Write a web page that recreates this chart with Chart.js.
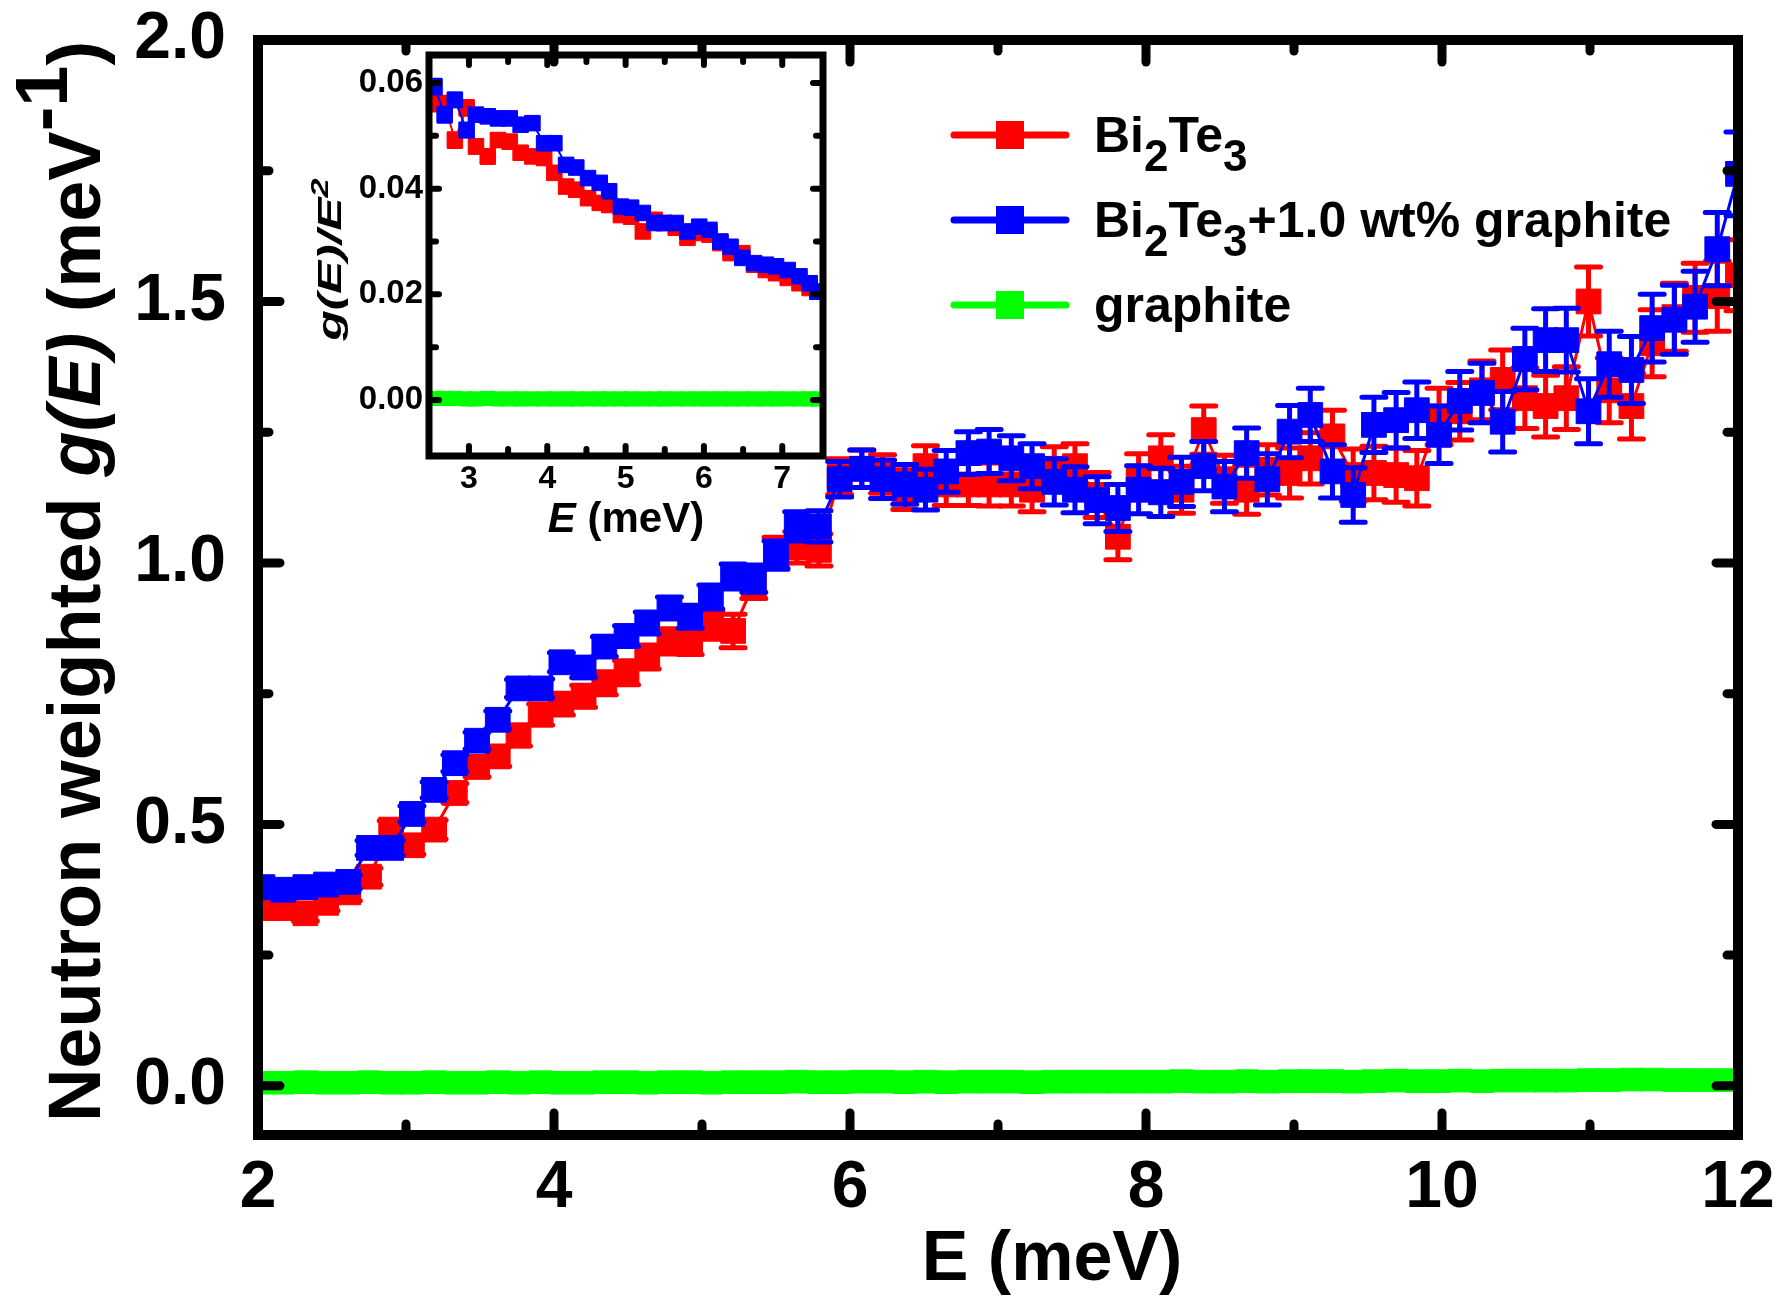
<!DOCTYPE html>
<html>
<head>
<meta charset="utf-8">
<title>Neutron weighted g(E)</title>
<script src="https://cdn.jsdelivr.net/npm/chart.js@4.4.1/dist/chart.umd.min.js"></script>
<style>
  html, body { margin: 0; padding: 0; background: #fff; overflow: hidden; }
  #wrap { position: relative; width: 1783px; height: 1302px; }
  #main { position: absolute; left: 0; top: 0; }
  #inset { position: absolute; left: 300px; top: 20px; }
</style>
</head>
<body>
<div id="wrap">
  <canvas id="main" width="1783" height="1302"></canvas>
  <canvas id="inset" width="540" height="540"></canvas>
</div>
<script>
// ---- data ----
const energy = [2.03, 2.17, 2.32, 2.46, 2.61, 2.75, 2.90, 3.04, 3.19, 3.33,
  3.48, 3.62, 3.76, 3.91, 4.05, 4.20, 4.34, 4.49, 4.63, 4.78,
  4.92, 5.06, 5.21, 5.35, 5.50, 5.64, 5.79, 5.93, 6.08, 6.22,
  6.37, 6.51, 6.65, 6.80, 6.94, 7.09, 7.23, 7.38, 7.52, 7.67,
  7.81, 7.95, 8.10, 8.24, 8.39, 8.53, 8.68, 8.82, 8.97, 9.11,
  9.26, 9.40, 9.54, 9.69, 9.83, 9.98, 10.12, 10.27, 10.41, 10.56,
  10.70, 10.84, 10.99, 11.13, 11.28, 11.42, 11.57, 11.71, 11.86, 12.00];

const bi2te3 = [0.34, 0.34, 0.33, 0.35, 0.37, 0.40, 0.49, 0.46, 0.49, 0.56,
  0.61, 0.63, 0.67, 0.71, 0.73, 0.745, 0.77, 0.79, 0.82, 0.85,
  0.85, 0.88, 0.87, 0.96, 1.02, 1.03, 1.025, 1.165, 1.18, 1.17,
  1.14, 1.185, 1.15, 1.15, 1.15, 1.15, 1.14, 1.18, 1.185, 1.13,
  1.05, 1.165, 1.20, 1.14, 1.254, 1.16, 1.14, 1.178, 1.172, 1.20,
  1.242, 1.168, 1.172, 1.168, 1.162, 1.28, 1.29, 1.33, 1.35, 1.315,
  1.30, 1.315, 1.50, 1.33, 1.30, 1.42, 1.47, 1.507, 1.51, 1.55];
const bi2te3Err = [0.014, 0.014, 0.015, 0.015, 0.016, 0.016, 0.017, 0.017, 0.018, 0.018,
  0.019, 0.019, 0.020, 0.020, 0.021, 0.021, 0.022, 0.023, 0.023, 0.024,
  0.025, 0.026, 0.032, 0.028, 0.029, 0.030, 0.031, 0.034, 0.036, 0.037,
  0.038, 0.039, 0.040, 0.040, 0.041, 0.041, 0.042, 0.042, 0.043, 0.043,
  0.044, 0.044, 0.045, 0.045, 0.046, 0.046, 0.047, 0.048, 0.048, 0.049,
  0.050, 0.050, 0.051, 0.052, 0.053, 0.054, 0.055, 0.056, 0.057, 0.058,
  0.059, 0.060, 0.066, 0.062, 0.063, 0.064, 0.065, 0.066, 0.067, 0.068];

const composite = [0.38, 0.375, 0.38, 0.385, 0.39, 0.455, 0.455, 0.52, 0.566, 0.617,
  0.66, 0.70, 0.76, 0.76, 0.81, 0.80, 0.84, 0.86, 0.885, 0.914,
  0.897, 0.935, 0.974, 0.97, 1.015, 1.07, 1.07, 1.16, 1.18, 1.16,
  1.15, 1.14, 1.175, 1.21, 1.213, 1.20, 1.185, 1.155, 1.14, 1.12,
  1.105, 1.14, 1.135, 1.155, 1.185, 1.146, 1.21, 1.16, 1.251, 1.283,
  1.175, 1.13, 1.264, 1.273, 1.292, 1.245, 1.31, 1.325, 1.27, 1.39,
  1.426, 1.426, 1.29, 1.38, 1.369, 1.449, 1.465, 1.49, 1.60, 1.744];
const compositeErr = [0.012, 0.012, 0.013, 0.013, 0.013, 0.014, 0.014, 0.015, 0.015, 0.016,
  0.016, 0.017, 0.017, 0.018, 0.018, 0.019, 0.019, 0.020, 0.021, 0.021,
  0.022, 0.023, 0.024, 0.026, 0.027, 0.028, 0.030, 0.034, 0.036, 0.037,
  0.038, 0.039, 0.040, 0.041, 0.042, 0.043, 0.043, 0.044, 0.044, 0.045,
  0.045, 0.046, 0.046, 0.047, 0.047, 0.048, 0.048, 0.049, 0.050, 0.051,
  0.051, 0.052, 0.053, 0.053, 0.054, 0.055, 0.056, 0.057, 0.058, 0.059,
  0.060, 0.061, 0.062, 0.063, 0.064, 0.065, 0.066, 0.068, 0.070, 0.080];

const graphite = [0.006, 0.006, 0.007, 0.006, 0.006, 0.007, 0.006, 0.006, 0.007, 0.006,
  0.006, 0.007, 0.006, 0.007, 0.006, 0.006, 0.007, 0.007, 0.006, 0.007,
  0.007, 0.006, 0.007, 0.007, 0.007, 0.008, 0.007, 0.007, 0.008, 0.008,
  0.007, 0.008, 0.007, 0.008, 0.008, 0.008, 0.007, 0.008, 0.008, 0.008,
  0.008, 0.008, 0.008, 0.009, 0.008, 0.008, 0.009, 0.008, 0.009, 0.009,
  0.009, 0.008, 0.009, 0.010, 0.009, 0.009, 0.010, 0.009, 0.010, 0.010,
  0.010, 0.010, 0.011, 0.011, 0.012, 0.012, 0.011, 0.011, 0.011, 0.011];
const graphiteErr = [0.004, 0.004, 0.004, 0.004, 0.004, 0.004, 0.004, 0.004, 0.004, 0.004,
  0.004, 0.004, 0.004, 0.004, 0.004, 0.004, 0.004, 0.004, 0.004, 0.004,
  0.004, 0.004, 0.004, 0.004, 0.004, 0.004, 0.004, 0.004, 0.004, 0.004,
  0.004, 0.004, 0.004, 0.004, 0.004, 0.004, 0.004, 0.004, 0.004, 0.004,
  0.004, 0.004, 0.004, 0.004, 0.004, 0.004, 0.004, 0.004, 0.004, 0.004,
  0.004, 0.004, 0.004, 0.004, 0.004, 0.004, 0.004, 0.004, 0.004, 0.004,
  0.004, 0.004, 0.004, 0.004, 0.004, 0.004, 0.004, 0.004, 0.004, 0.004];

// inset: g(E)/E^2
const insetEnergy = [2.56, 2.69, 2.82, 2.97, 3.09, 3.24, 3.37, 3.52, 3.66, 3.81,
  3.96, 4.09, 4.24, 4.37, 4.52, 4.67, 4.79, 4.94, 5.07, 5.22,
  5.37, 5.49, 5.64, 5.79, 5.94, 6.07, 6.21, 6.34, 6.49, 6.64,
  6.79, 6.92, 7.07, 7.22, 7.35, 7.45];
const insetBi2te3 = [0.0562, 0.0560, 0.0492, 0.0553, 0.0480, 0.0461, 0.0492, 0.0489, 0.0468, 0.0461,
  0.0458, 0.0430, 0.0404, 0.0398, 0.0382, 0.0373, 0.0369, 0.0350, 0.0347, 0.0319,
  0.0341, 0.0335, 0.0326, 0.0307, 0.0316, 0.0313, 0.0297, 0.0278, 0.0278, 0.0256,
  0.0246, 0.0240, 0.0231, 0.0221, 0.0212, 0.0205];
const insetBi2te3Err = [0.0016, 0.0016, 0.0015, 0.0015, 0.0014, 0.0014, 0.0013, 0.0013, 0.0012, 0.0012,
  0.0012, 0.0011, 0.0011, 0.0011, 0.0010, 0.0010, 0.0010, 0.0010, 0.0009, 0.0009,
  0.0009, 0.0009, 0.0009, 0.0009, 0.0008, 0.0008, 0.0008, 0.0008, 0.0008, 0.0008,
  0.0008, 0.0008, 0.0008, 0.0008, 0.0008, 0.0008];
const insetComposite = [0.0593, 0.0540, 0.0568, 0.0511, 0.0540, 0.0537, 0.0533, 0.0533, 0.0521, 0.0524,
  0.0486, 0.0486, 0.0445, 0.0440, 0.0420, 0.0411, 0.0395, 0.0366, 0.0364, 0.0354,
  0.0335, 0.0335, 0.0335, 0.0319, 0.0328, 0.0322, 0.0300, 0.0290, 0.0269, 0.0259,
  0.0256, 0.0253, 0.0246, 0.0234, 0.0221, 0.0205];
const insetCompositeErr = [0.0015, 0.0015, 0.0014, 0.0014, 0.0013, 0.0013, 0.0012, 0.0012, 0.0012, 0.0011,
  0.0011, 0.0011, 0.0010, 0.0010, 0.0010, 0.0010, 0.0009, 0.0009, 0.0009, 0.0009,
  0.0009, 0.0008, 0.0008, 0.0008, 0.0008, 0.0008, 0.0008, 0.0008, 0.0008, 0.0008,
  0.0007, 0.0007, 0.0007, 0.0007, 0.0007, 0.0007];
const insetGraphite = [0.0003, 0.0003, 0.0003, 0.0002, 0.0002, 0.0003, 0.0002, 0.0002, 0.0002, 0.0002,
  0.0002, 0.0002, 0.0002, 0.0002, 0.0002, 0.0002, 0.0002, 0.0002, 0.0002, 0.0002,
  0.0002, 0.0002, 0.0002, 0.0002, 0.0002, 0.0002, 0.0002, 0.0002, 0.0002, 0.0002,
  0.0002, 0.0002, 0.0002, 0.0002, 0.0002, 0.0002];
const insetGraphiteErr = [0.0002, 0.0002, 0.0002, 0.0002, 0.0002, 0.0002, 0.0002, 0.0002, 0.0002, 0.0002,
  0.0002, 0.0002, 0.0002, 0.0002, 0.0002, 0.0002, 0.0002, 0.0002, 0.0002, 0.0002,
  0.0002, 0.0002, 0.0002, 0.0002, 0.0002, 0.0002, 0.0002, 0.0002, 0.0002, 0.0002,
  0.0002, 0.0002, 0.0002, 0.0002, 0.0002, 0.0002];

// ticks
const xMajorTicks = [2, 4, 6, 8, 10, 12];
const xMinorTicks = [3, 5, 7, 9, 11];
const yMajorTicks = [0, 0.5, 1.0, 1.5, 2.0];
const yMinorTicks = [0.25, 0.75, 1.25, 1.75];
const insetXMajorTicks = [3, 4, 5, 6, 7];
const insetXMinorTicks = [3.5, 4.5, 5.5, 6.5];
const insetYMajorTicks = [0, 0.02, 0.04, 0.06];
const insetYMinorTicks = [0.01, 0.03, 0.05];

const RED = '#ff0000', BLUE = '#0000ff', GREEN = '#00ff00';
const FONT = "'Liberation Sans', Arial, sans-serif";

// ---- helpers ----
function series(label, xs, ys, errs, color, order, radius, lineWidth) {
  return {
    label: label,
    data: xs.map((x, i) => ({ x: x, y: ys[i] })),
    errors: errs,
    borderColor: color,
    backgroundColor: color,
    pointBackgroundColor: color,
    pointBorderColor: color,
    pointStyle: 'rect',
    pointRadius: radius,
    pointBorderWidth: 1,
    borderWidth: lineWidth,
    order: order,
    clip: 0,
    tension: 0
  };
}

// draw a run of text pieces (italic / sub / superscript)
function drawRich(ctx, segs, x, y, size, align) {
  const fontOf = s => (s.italic ? 'italic ' : '') + 'bold ' + Math.round(size * (s.scale || 1)) + 'px ' + FONT;
  let total = 0;
  segs.forEach(s => { ctx.font = fontOf(s); total += ctx.measureText(s.t).width; });
  let cx = align === 'center' ? x - total / 2 : x;
  ctx.textAlign = 'left';
  ctx.textBaseline = 'alphabetic';
  segs.forEach(s => {
    ctx.font = fontOf(s);
    ctx.fillText(s.t, cx, y + (s.dy || 0) * size);
    cx += ctx.measureText(s.t).width;
  });
}

const errorBars = {
  id: 'errorBars',
  beforeDatasetDraw(chart, args, opts) {
    const ds = chart.data.datasets[args.index];
    if (!ds.errors) return;
    const { ctx, chartArea: a, scales: { x, y } } = chart;
    ctx.save();
    ctx.beginPath();
    ctx.rect(a.left, a.top, a.right - a.left, a.bottom - a.top);
    ctx.clip();
    ctx.strokeStyle = ds.borderColor;
    ctx.lineWidth = opts.width;
    ctx.lineCap = 'round';
    ds.data.forEach((p, i) => {
      const px = x.getPixelForValue(p.x);
      const top = y.getPixelForValue(p.y + ds.errors[i]);
      const bot = y.getPixelForValue(p.y - ds.errors[i]);
      ctx.beginPath();
      ctx.moveTo(px, top); ctx.lineTo(px, bot);
      ctx.moveTo(px - opts.cap, top); ctx.lineTo(px + opts.cap, top);
      ctx.moveTo(px - opts.cap, bot); ctx.lineTo(px + opts.cap, bot);
      ctx.stroke();
    });
    ctx.restore();
  }
};

// closed frame with inward ticks on all four sides
const frameTicks = {
  id: 'frameTicks',
  afterDatasetsDraw(chart, args, o) {
    const { ctx, chartArea: a, scales: { x, y } } = chart;
    ctx.save();
    ctx.strokeStyle = '#000';
    ctx.lineWidth = o.tickWidth;
    ctx.lineCap = 'round';
    const line = (x1, y1, x2, y2) => { ctx.beginPath(); ctx.moveTo(x1, y1); ctx.lineTo(x2, y2); ctx.stroke(); };
    const xt = (vals, len) => vals.forEach(v => {
      const px = x.getPixelForValue(v);
      line(px, a.bottom, px, a.bottom - len);
      line(px, a.top, px, a.top + len);
    });
    const yt = (vals, len) => vals.forEach(v => {
      const py = y.getPixelForValue(v);
      line(a.left, py, a.left + len, py);
      line(a.right, py, a.right - len, py);
    });
    xt(o.xMajor, o.major); xt(o.xMinor, o.minor);
    yt(o.yMajor, o.major); yt(o.yMinor, o.minor);
    ctx.lineCap = 'square';
    ctx.lineWidth = o.frame;
    ctx.strokeRect(a.left, a.top, a.right - a.left, a.bottom - a.top);
    ctx.restore();
  }
};

const tickFont = size => ({ family: FONT, size: size, weight: 'bold' });

// fixed axis boxes, no extra label padding pushing the plot area around
const fixX = h => s => { s.height = h; s.paddingLeft = 0; s.paddingRight = 0; };
const fixY = w => s => { s.width = w; s.paddingTop = 0; s.paddingBottom = 0; };

// ---- main chart ----
const legendRows = [
  { color: RED, segs: [{ t: 'Bi' }, { t: '2', scale: 0.87, dy: 0.38 }, { t: 'Te' }, { t: '3', scale: 0.87, dy: 0.38 }] },
  { color: BLUE, segs: [{ t: 'Bi' }, { t: '2', scale: 0.87, dy: 0.38 }, { t: 'Te' }, { t: '3', scale: 0.87, dy: 0.38 }, { t: '+1.0 wt% graphite' }] },
  { color: GREEN, segs: [{ t: 'graphite' }] }
];

const mainText = {
  id: 'mainText',
  afterDraw(chart) {
    const { ctx, chartArea: a } = chart;
    ctx.save();
    ctx.fillStyle = '#000';
    drawRich(ctx, [{ t: 'E (meV)' }], (a.left + a.right) / 2 + 54, a.bottom + 145, 70, 'center');

    ctx.save();
    ctx.translate(100, (a.top + a.bottom) / 2 - 6);
    ctx.rotate(-Math.PI / 2);
    drawRich(ctx, [
      { t: 'Neutron weighted ' },
      { t: 'g(E)', italic: true },
      { t: ' (meV' },
      { t: '-1', dy: -0.44 },
      { t: ')' }
    ], 0, 0, 74, 'center');
    ctx.restore();

    legendRows.forEach((row, i) => {
      const cy = a.top + 95 + 85 * i;
      ctx.strokeStyle = row.color;
      ctx.fillStyle = row.color;
      ctx.lineWidth = 7;
      ctx.lineCap = 'round';
      ctx.beginPath(); ctx.moveTo(954, cy); ctx.lineTo(1066, cy); ctx.stroke();
      ctx.fillRect(1010 - 14, cy - 14, 28, 28);
      ctx.fillStyle = '#000';
      drawRich(ctx, row.segs, 1094, cy + 17, 50, 'left');
    });
    ctx.restore();
  }
};

new Chart(document.getElementById('main'), {
  type: 'line',
  data: {
    datasets: [
      series('Bi2Te3', energy, bi2te3, bi2te3Err, RED, 1, 17.5, 3),
      series('Bi2Te3+1.0 wt% graphite', energy, composite, compositeErr, BLUE, 0, 17.5, 3),
      series('graphite', energy, graphite, graphiteErr, GREEN, 2, 16, 3)
    ]
  },
  options: {
    responsive: false,
    animation: false,
    events: [],
    layout: { padding: { top: 40, right: 45, left: 0, bottom: 0 } },
    plugins: {
      legend: { display: false },
      tooltip: { enabled: false },
      errorBars: { width: 5, cap: 12 },
      frameTicks: {
        frame: 10, tickWidth: 9, major: 22, minor: 11,
        xMajor: xMajorTicks, xMinor: xMinorTicks, yMajor: yMajorTicks, yMinor: yMinorTicks
      }
    },
    scales: {
      x: {
        type: 'linear', min: 2, max: 12,
        grid: { display: false, drawTicks: false },
        border: { display: false },
        afterBuildTicks: s => { s.ticks = xMajorTicks.map(v => ({ value: v })); },
        afterFit: fixX(167),
        ticks: { font: tickFont(66), color: '#000', padding: 14, maxRotation: 0, autoSkip: false, callback: v => String(v) }
      },
      y: {
        type: 'linear', min: -0.094, max: 2.0,
        grid: { display: false, drawTicks: false },
        border: { display: false },
        afterBuildTicks: s => { s.ticks = yMajorTicks.map(v => ({ value: v })); },
        afterFit: fixY(258),
        ticks: { font: tickFont(66), color: '#000', padding: 32, autoSkip: false, callback: v => v.toFixed(1) }
      }
    }
  },
  plugins: [errorBars, frameTicks, mainText]
});

// ---- inset chart ----
const insetText = {
  id: 'insetText',
  afterDraw(chart) {
    const { ctx, chartArea: a } = chart;
    ctx.save();
    ctx.fillStyle = '#000';
    drawRich(ctx, [{ t: 'E', italic: true }, { t: ' (meV)' }], (a.left + a.right) / 2, a.bottom + 76, 42, 'center');
    ctx.save();
    ctx.translate(41, (a.top + a.bottom) / 2 + 4);
    ctx.rotate(-Math.PI / 2);
    ctx.scale(1.5, 1);
    drawRich(ctx, [{ t: 'g(E)/E', italic: true }, { t: '2', italic: true, scale: 0.7, dy: -0.4 }], 0, 0, 33, 'center');
    ctx.restore();
    ctx.restore();
  }
};

new Chart(document.getElementById('inset'), {
  type: 'line',
  data: {
    datasets: [
      series('Bi2Te3', insetEnergy, insetBi2te3, insetBi2te3Err, RED, 1, 11, 2),
      series('Bi2Te3+1.0 wt% graphite', insetEnergy, insetComposite, insetCompositeErr, BLUE, 0, 11, 2),
      series('graphite', insetEnergy, insetGraphite, insetGraphiteErr, GREEN, 2, 10, 2)
    ]
  },
  options: {
    responsive: false,
    animation: false,
    events: [],
    layout: { padding: { top: 35, right: 17, left: 0, bottom: 0 } },
    plugins: {
      legend: { display: false },
      tooltip: { enabled: false },
      errorBars: { width: 2, cap: 7 },
      frameTicks: {
        frame: 7, tickWidth: 6, major: 10, minor: 7,
        xMajor: insetXMajorTicks, xMinor: insetXMinorTicks, yMajor: insetYMajorTicks, yMinor: insetYMinorTicks
      }
    },
    scales: {
      x: {
        type: 'linear', min: 2.49, max: 7.52,
        grid: { display: false, drawTicks: false },
        border: { display: false },
        afterBuildTicks: s => { s.ticks = insetXMajorTicks.map(v => ({ value: v })); },
        afterFit: fixX(104),
        ticks: { font: tickFont(32), color: '#000', padding: 4, maxRotation: 0, autoSkip: false, callback: v => String(v) }
      },
      y: {
        type: 'linear', min: -0.0106, max: 0.0653,
        grid: { display: false, drawTicks: false },
        border: { display: false },
        afterBuildTicks: s => { s.ticks = insetYMajorTicks.map(v => ({ value: v })); },
        afterFit: fixY(129),
        ticks: { font: tickFont(33), color: '#000', padding: 6, autoSkip: false, callback: v => v.toFixed(2) }
      }
    }
  },
  plugins: [errorBars, frameTicks, insetText]
});
</script>
</body>
</html>
